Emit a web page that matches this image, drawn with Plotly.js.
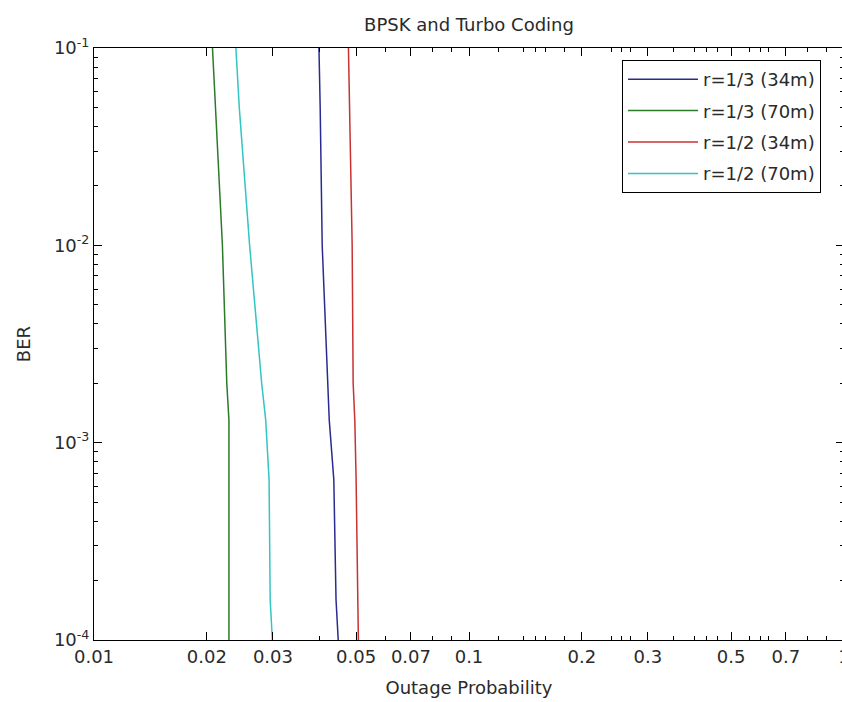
<!DOCTYPE html>
<html>
<head>
<meta charset="utf-8">
<script src="https://cdn.plot.ly/plotly-3.0.1.min.js"></script>
<style>
html, body { margin: 0; padding: 0; background: #fff; overflow: hidden; }
#chart { width: 870px; height: 702px; }
</style>
</head>
<body>
<div id="chart"></div>
<script>
// BER levels (y) shared by all series
const ber = [0.1, 0.05, 0.01, 0.002, 0.0013, 0.00065, 0.00016, 0.0001];
// Outage probability (x) for each series
const r13_34m = [0.0398, 0.0401, 0.0406, 0.0421, 0.0424, 0.0436, 0.0442, 0.0448];
const r13_70m = [0.0207, 0.0211, 0.0220, 0.0226, 0.0229, 0.0229, 0.0229, 0.0229];
const r12_34m = [0.0477, 0.0480, 0.0488, 0.0491, 0.0496, 0.0500, 0.0505, 0.0507];
const r12_70m = [0.0239, 0.0244, 0.0260, 0.0280, 0.0287, 0.0293, 0.0295, 0.0299];

const seriesNames = ['r=1/3 (34m)', 'r=1/3 (70m)', 'r=1/2 (34m)', 'r=1/2 (70m)'];
const seriesX = [r13_34m, r13_70m, r12_34m, r12_70m];
const colors = ['#2b2b8f', '#2a7a2a', '#c83232', '#33c4c4'];

const xTickVals = [0.01, 0.02, 0.03, 0.05, 0.07, 0.1, 0.2, 0.3, 0.5, 0.7, 1];
const xTickText = ['0.01', '0.02', '0.03', '0.05', '0.07', '0.1', '0.2', '0.3', '0.5', '0.7', '1'];
const xMinorVals = [0.04, 0.06, 0.08, 0.09, 0.12, 0.14, 0.15, 0.16, 0.18, 0.24, 0.255, 0.27,
                    0.35, 0.4, 0.43, 0.46, 0.56, 0.6, 0.63, 0.8, 0.9];
const yTickVals = [1e-4, 1e-3, 1e-2, 1e-1];
const yTickText = ['10<sup>-4</sup>', '10<sup>-3</sup>', '10<sup>-2</sup>', '10<sup>-1</sup>'];
const yMinorVals = [];
[1e-4, 1e-3, 1e-2].forEach(d => { for (let k = 2; k <= 9; k++) yMinorVals.push(k * d); });

const FONT = 'DejaVu Sans, Arial, sans-serif';
const TXT = '#2a2a2a';

const traces = seriesNames.map((n, i) => ({
  type: 'scatter', mode: 'lines', name: n,
  x: seriesX[i], y: ber,
  legendgroup: 'g' + i,
  line: { color: colors[i], width: 1.5 }
}));

const axisCommon = {
  type: 'log',
  showline: true, linecolor: '#000', linewidth: 1,
  mirror: 'ticks', ticks: 'inside', ticklen: 8, tickwidth: 1, tickcolor: '#000',
  showgrid: false, zeroline: false,
  tickfont: { family: FONT, size: 18, color: TXT },
  tickmode: 'array'
};

const layout = {
  width: 870, height: 702,
  margin: { l: 94, r: 26, t: 48, b: 62 },
  paper_bgcolor: '#fff', plot_bgcolor: '#fff',
  font: { family: FONT, size: 18, color: TXT },
  title: { text: 'BPSK and Turbo Coding', font: { family: FONT, size: 18, color: TXT },
           x: 0.5, xref: 'paper', y: 1 - 25 / 702, yref: 'container', yanchor: 'middle' },
  xaxis: Object.assign({}, axisCommon, {
    range: [-2, 0], tickvals: xTickVals, ticktext: xTickText,
    minor: { tickvals: xMinorVals, ticks: 'inside', ticklen: 4, tickcolor: '#000', tickwidth: 1, showgrid: false },
    title: { text: 'Outage Probability', font: { family: FONT, size: 18, color: TXT }, standoff: 15 }
  }),
  yaxis: Object.assign({}, axisCommon, {
    range: [-4, -1], tickvals: yTickVals, ticktext: yTickText,
    minor: { tickvals: yMinorVals, ticks: 'inside', ticklen: 4, tickcolor: '#000', tickwidth: 1, showgrid: false },
    title: { text: 'BER', font: { family: FONT, size: 18, color: TXT }, standoff: 18 }
  }),
  showlegend: true,
  legend: {
    x: (821 - 94) / 750, xanchor: 'right', y: (640 - 60) / 592, yanchor: 'top',
    bgcolor: '#fff', bordercolor: '#000', borderwidth: 1,
    font: { family: FONT, size: 18, color: TXT },
    tracegroupgap: 5, itemwidth: 70
  }
};

Plotly.newPlot('chart', traces, layout, { displayModeBar: false, staticPlot: true });
</script>
</body>
</html>
